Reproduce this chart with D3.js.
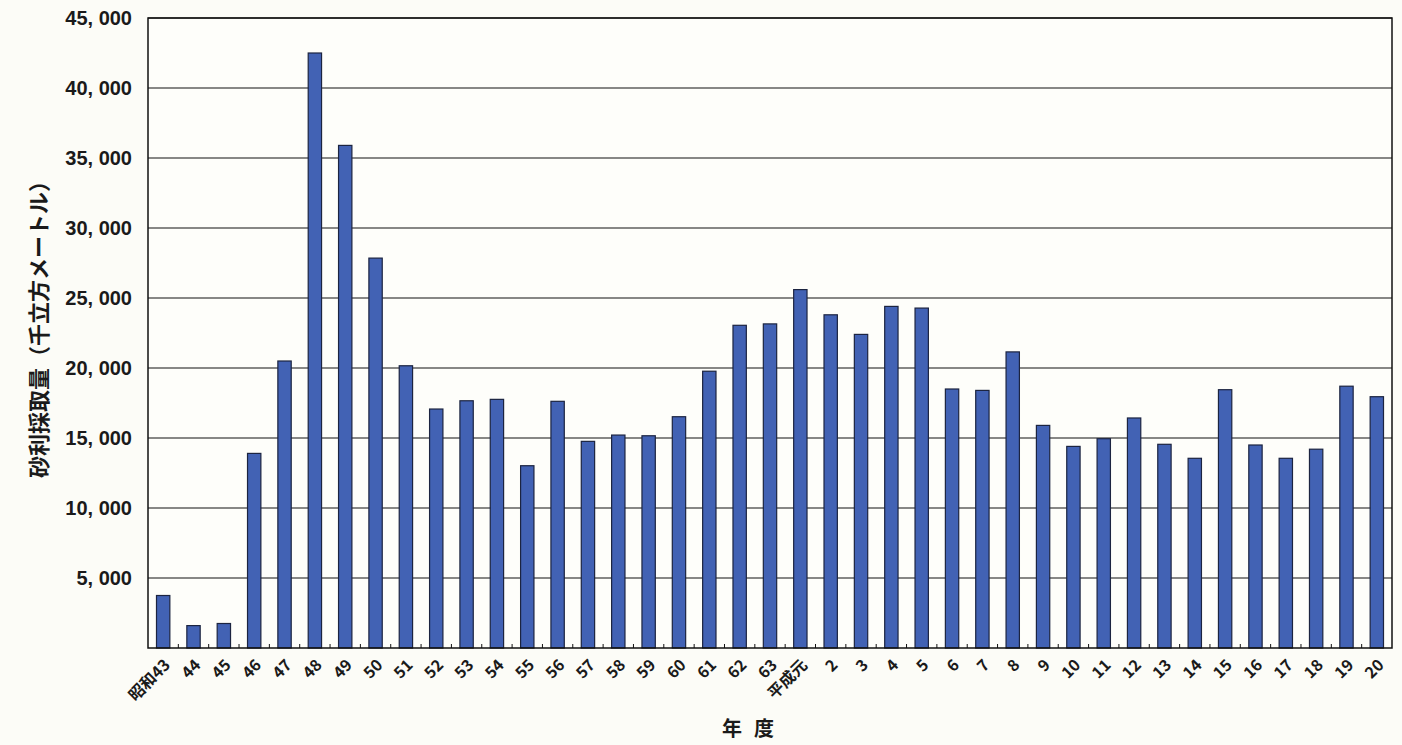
<!DOCTYPE html>
<html>
    <script src="https://d3js.org/d3.v7.min.js"></script>
    <head>
        <style>
            body { margin: 0; background: #fcfcf7; }
            text { fill: #1a1a1a; }
        </style>
    </head>
    <body>
        <svg id="chart"></svg>

        <script>
            // 年度 labels
            const years = ["昭和43", "44", "45", "46", "47", "48", "49", "50", "51", "52",
                "53", "54", "55", "56", "57", "58", "59", "60", "61", "62", "63",
                "平成元", "2", "3", "4", "5", "6", "7", "8", "9", "10",
                "11", "12", "13", "14", "15", "16", "17", "18", "19", "20"];
            // 砂利採取量 (千立方メートル)
            const gravel = [3750, 1600, 1750, 13900, 20500, 42500, 35900, 27850, 20160, 17070,
                17660, 17760, 13020, 17620, 14760, 15210, 15160, 16520, 19770, 23050, 23150,
                25600, 23800, 22400, 24400, 24280, 18500, 18400, 21150, 15900, 14400,
                14950, 16430, 14550, 13550, 18450, 14500, 13550, 14200, 18700, 17950];
            const yTicks = [5000, 10000, 15000, 20000, 25000, 30000, 35000, 40000, 45000];

            const width = 1402;
            const height = 745;
            const margin = { top: 18, right: 10, bottom: 97, left: 148 };

            const svg = d3.select("#chart")
                .attr("viewBox", [0, 0, width, height])
                .attr("width", width)
                .attr("height", height);

            const x = d3.scaleBand()
                .domain(years)
                .range([margin.left, width - margin.right])
                .paddingInner(0.56)
                .paddingOuter(0.28);
            const y = d3.scaleLinear()
                .domain([0, 45000])
                .range([height - margin.bottom, margin.top]);

            const fmt = (d) => d3.format(",")(d).replace(",", ", ");

            // plot background
            svg.append("rect")
                .attr("x", margin.left).attr("y", margin.top)
                .attr("width", width - margin.right - margin.left)
                .attr("height", height - margin.bottom - margin.top)
                .attr("fill", "#fefefa");

            // gridlines
            svg.append("g")
                .selectAll("line")
                .data(yTicks)
                .join("line")
                .attr("x1", margin.left).attr("x2", width - margin.right)
                .attr("y1", (d) => y(d)).attr("y2", (d) => y(d))
                .attr("stroke", "#111").attr("stroke-width", 1.2);

            // bars
            svg.append("g")
                .selectAll("rect")
                .data(years.map((d, i) => ({ year: d, v: gravel[i] })))
                .join("rect")
                .attr("x", (d) => x(d.year))
                .attr("y", (d) => y(d.v))
                .attr("width", x.bandwidth())
                .attr("height", (d) => y(0) - y(d.v))
                .attr("fill", "#4262b4")
                .attr("stroke", "#1c2440")
                .attr("stroke-width", 1.2);

            // frame
            svg.append("rect")
                .attr("x", margin.left).attr("y", margin.top)
                .attr("width", width - margin.right - margin.left)
                .attr("height", height - margin.bottom - margin.top)
                .attr("fill", "none")
                .attr("stroke", "#111").attr("stroke-width", 1.5);

            // y axis
            const yAxis = svg.append("g")
                .attr("transform", `translate(${margin.left},0)`)
                .call(d3.axisLeft(y).tickValues(yTicks).tickFormat(fmt).tickSize(0).tickPadding(16));
            yAxis.select(".domain").remove();
            yAxis.selectAll("text")
                .attr("font-family", "Liberation Sans, Arial, sans-serif")
                .attr("font-weight", "bold")
                .attr("font-size", 20)
                .attr("fill", "#1a1a1a");

            // x axis: small inward ticks at category boundaries
            const step = x.step();
            svg.append("g")
                .selectAll("line")
                .data(years.slice(1))
                .join("line")
                .attr("x1", (d) => x(d) - step * 0.28)
                .attr("x2", (d) => x(d) - step * 0.28)
                .attr("y1", y(0)).attr("y2", y(0) - 4)
                .attr("stroke", "#111");

            svg.append("g")
                .selectAll("text")
                .data(years)
                .join("text")
                .attr("transform", (d) => `translate(${x(d) + x.bandwidth() / 2 + 5},${y(0) + 15}) rotate(-45)`)
                .attr("text-anchor", "end")
                .attr("dominant-baseline", "middle")
                .attr("font-family", "Noto Sans CJK JP, sans-serif")
                .attr("font-weight", "bold")
                .attr("font-size", 16)
                .text((d) => d);

            // axis titles
            svg.append("text")
                .attr("transform", `translate(47,324) rotate(-90)`)
                .attr("text-anchor", "middle")
                .attr("font-family", "Noto Sans CJK JP, sans-serif")
                .attr("font-weight", "bold")
                .attr("font-size", 22)
                .text("砂利採取量（千立方メートル）");

            svg.append("text")
                .attr("x", 754).attr("y", 736)
                .attr("text-anchor", "middle")
                .attr("font-family", "Noto Sans CJK JP, sans-serif")
                .attr("font-weight", "bold")
                .attr("font-size", 20)
                .attr("letter-spacing", 12)
                .text("年度");
        </script>
    </body>
</html>
